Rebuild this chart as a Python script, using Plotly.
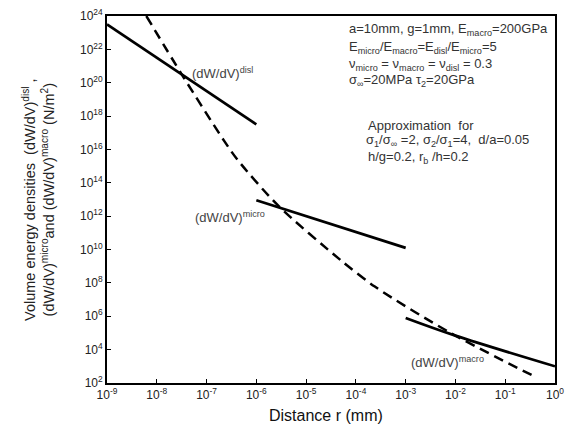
import numpy as np
import plotly.graph_objects as go

# ---- data ----
disl_r = [1e-9, 1e-6]
disl_w = [10**23.5, 10**17.5]

micro_r = [1e-6, 1e-3]
micro_w = [10**12.95, 10**10.1]

macro_r = [1e-3, 1e-2, 1e0]
macro_w = [10**5.9, 10**4.84, 10**3.0]

approx_log_r = [-8.21, -7.49, -6.65, -6.37, -5.55, -4.30, -3.62, -2.11, -0.37]
approx_log_w = [24.0, 20.46, 16.53, 15.35, 12.6, 9.35, 7.78, 5.02, 2.33]
approx_r = [10.0**v for v in approx_log_r]
approx_w = [10.0**v for v in approx_log_w]

x_tick_exp = list(range(-9, 1))
y_tick_exp = list(range(2, 25, 2))

# ---- layout geometry ----
W, H = 571, 432
L, R, T, B = 106.5, 564, 10, 383


def px(xp):
    return (xp - L) / (R - L)


def py(yp):
    return (B - yp) / (B - T)


fig = go.Figure()
line_solid = dict(color="black", width=2.7)
fig.add_trace(go.Scatter(x=disl_r, y=disl_w, mode="lines", line=line_solid, showlegend=False))
fig.add_trace(go.Scatter(x=micro_r, y=micro_w, mode="lines", line=line_solid, showlegend=False))
fig.add_trace(go.Scatter(x=macro_r, y=macro_w, mode="lines", line=dict(color="black", width=2.7, shape="spline"), showlegend=False))
fig.add_trace(go.Scatter(x=approx_r, y=approx_w, mode="lines",
                         line=dict(color="black", width=2.5, dash="10px,6px", shape="spline", smoothing=0.8),
                         showlegend=False))

tick_font = dict(family="Liberation Sans, Arial", size=12, color="#222")
fig.update_xaxes(type="log", range=[-9, 0],
                 tickvals=[10.0**e for e in x_tick_exp],
                 ticktext=[f"10<sup>{e}</sup>" for e in x_tick_exp],
                 ticks="inside", ticklen=4, tickwidth=1.3, tickcolor="black",
                 ticklabeloverflow="allow",
                 showline=True, linecolor="black", linewidth=1.8, mirror=True,
                 showgrid=False, zeroline=False, tickfont=tick_font)
fig.update_yaxes(type="log", range=[2, 24],
                 tickvals=[10.0**e for e in y_tick_exp],
                 ticktext=[f"10<sup>{e}</sup>" for e in y_tick_exp],
                 ticks="inside", ticklen=4, tickwidth=1.3, tickcolor="black",
                 ticklabeloverflow="allow",
                 showline=True, linecolor="black", linewidth=1.8, mirror=True,
                 showgrid=False, zeroline=False, tickfont=tick_font)

anns = []


def add(text, xp, yp, size=13, xanchor="left", color="#333", angle=0):
    anns.append(dict(text=text, x=px(xp), y=py(yp), xref="paper", yref="paper",
                     xanchor=xanchor, yanchor="middle", showarrow=False, textangle=angle,
                     font=dict(family="Liberation Sans, Arial", size=size, color=color)))


add("a=10mm, g=1mm, E<sub>macro</sub>=200GPa", 352, 24)
add("E<sub>micro</sub>/E<sub>macro</sub>=E<sub>disl</sub>/E<sub>micro</sub>=5", 352, 42)
add("ν<sub>micro</sub> = ν<sub>macro</sub> = ν<sub>disl</sub> = 0.3", 352, 59)
add("σ<sub>∞</sub>=20MPa τ<sub>2</sub>=20GPa", 352, 76)
add("Approximation  for", 371, 121)
add("σ<sub>1</sub>/σ<sub>∞</sub> =2, σ<sub>2</sub>/σ<sub>1</sub>=4,  d/a=0.05", 369, 137)
add("h/g=0.2, r<sub>b</sub> /h=0.2", 371, 154)

add("(dW/dV)<sup>disl</sup>", 191, 68, size=13, color="#444")
add("(dW/dV)<sup>micro</sup>", 194, 214, size=13, color="#444")
add("(dW/dV)<sup>macro</sup>", 415, 362, size=13, color="#444")

add("Distance r (mm)", 330, 416, size=16, xanchor="center", color="#111")

anns.append(dict(text="Volume energy densities  (dW/dV)<sup>disl</sup> ,<br>(dW/dV)<sup>micro</sup>and (dW/dV)<sup>macro</sup> (N/m<sup>2</sup>)",
                 x=px(37), y=py(197), xref="paper", yref="paper", xanchor="center", yanchor="middle",
                 showarrow=False, textangle=-90,
                 font=dict(family="Liberation Sans, Arial", size=14.5, color="#222")))

fig.update_layout(width=W, height=H, margin=dict(l=L, r=W - R, t=T, b=H - B),
                  paper_bgcolor="white", plot_bgcolor="white", annotations=anns)

fig.write_html("out.html")
